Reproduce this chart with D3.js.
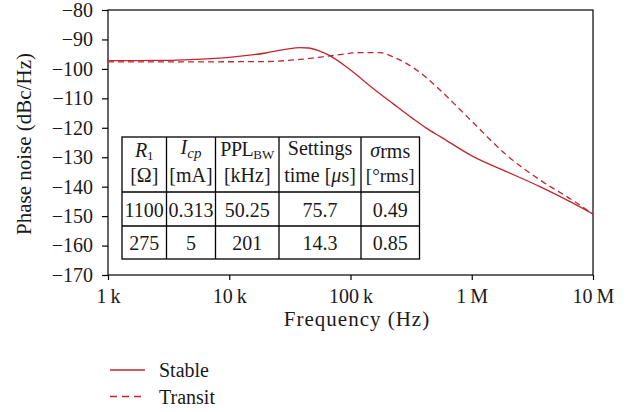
<!DOCTYPE html>
<html><head><meta charset="utf-8">
<script src="https://cdn.jsdelivr.net/npm/d3@7"></script>
<style>
html,body{margin:0;padding:0;background:#fff;}
svg{display:block;font-family:"Liberation Serif","DejaVu Serif",serif;}
</style></head>
<body>
<svg id="c" width="629" height="412"></svg>
<script>
// ---- data ----
const xTickValues = [1e3, 1e4, 1e5, 1e6, 1e7];
const xTickLabels = ["1\u2009k", "10\u2009k", "100\u2009k", "1\u2009M", "10\u2009M"];
const yTickValues = [-170, -160, -150, -140, -130, -120, -110, -100, -90, -80];
const yTickLabels = ["\u2212170", "\u2212160", "\u2212150", "\u2212140", "\u2212130", "\u2212120", "\u2212110", "\u2212100", "\u221290", "\u221280"];

const stableFreq = [1e3, 3e3, 5e3, 1e4, 2e4, 3e4, 3.8e4, 4.5e4, 5.5e4, 6.8e4, 1e5, 1.5e5, 2.24e5, 3.27e5, 4.25e5, 5.5e5, 1.03e6, 1.94e6, 3.65e6, 6.9e6, 1e7];
const stablePN   = [-97.2, -97.1, -96.8, -96.1, -94.6, -93.3, -92.8, -92.9, -93.9, -95.6, -100.4, -106.3, -111.8, -116.9, -120.2, -123.0, -129.8, -134.9, -140.0, -145.7, -149.3];

const transitFreq = [1e3, 5e3, 2e4, 3.8e4, 6.8e4, 1.2e5, 1.75e5, 2.24e5, 3.51e5, 5.14e5, 8e5, 1.03e6, 1.94e6, 3.65e6, 6.9e6, 1e7];
const transitPN   = [-97.6, -97.6, -97.5, -96.8, -95.6, -94.5, -94.5, -95.9, -100.4, -106.1, -113.8, -118.3, -129.3, -137.7, -144.8, -149.3];

const seriesNames = ["Stable", "Transit"];

const tableHeader1 = ["R1", "Icp", "PPLBW", "Settings", "σrms"];
const tableHeader2 = ["[Ω]", "[mA]", "[kHz]", "time [μs]", "[°rms]"];
const tableRows = [
  ["1100", "0.313", "50.25", "75.7", "0.49"],
  ["275", "5", "201", "14.3", "0.85"]
];

// ---- drawing ----
const svg = d3.select("#c");
const red = "#c1272d";
const ink = "#1a1a1a";
const fs = 20;

const x = d3.scaleLog().domain([1e3, 1e7]).range([108, 593]);
const y = d3.scaleLinear().domain([-170, -80]).range([275, 10]);

// frame
svg.append("rect").attr("x", x.range()[0]).attr("y", y.range()[1])
  .attr("width", x.range()[1] - x.range()[0]).attr("height", y.range()[0] - y.range()[1])
  .attr("fill", "none").attr("stroke", "#000").attr("stroke-width", 1.2);

const xAxis = d3.axisBottom(x).tickValues(xTickValues)
  .tickFormat((d, i) => xTickLabels[i]).tickSize(5).tickSizeOuter(0);
const gx = svg.append("g").attr("transform", `translate(0,${y.range()[0]})`).call(xAxis);
gx.select(".domain").remove();
gx.selectAll("line").attr("stroke", "#000").attr("stroke-width", 1.2);
gx.selectAll("text").attr("font-size", fs).attr("fill", ink).attr("font-family", "Liberation Serif")
  .attr("y", 28).attr("dy", null);

const yAxis = d3.axisLeft(y).tickValues(yTickValues)
  .tickFormat((d, i) => yTickLabels[i]).tickSize(6).tickSizeOuter(0);
const gy = svg.append("g").attr("transform", `translate(${x.range()[0]},0)`).call(yAxis);
gy.select(".domain").remove();
gy.selectAll("line").attr("stroke", "#000").attr("stroke-width", 1.2);
gy.selectAll("text").attr("font-size", fs).attr("fill", ink).attr("font-family", "Liberation Serif").attr("x", -15);

// axis titles
svg.append("text").attr("x", 357).attr("y", 326)
  .attr("text-anchor", "middle").attr("font-size", 21).attr("letter-spacing", 1).attr("fill", ink).text("Frequency (Hz)");
svg.append("text").attr("transform", `translate(31,144) rotate(-90)`)
  .attr("text-anchor", "middle").attr("font-size", 21).attr("fill", ink).text("Phase noise (dBc/Hz)");

// curves
const line = d3.line().x(d => x(d[0])).y(d => y(d[1])).curve(d3.curveMonotoneX);
svg.append("clipPath").attr("id", "pc").append("rect")
  .attr("x", x.range()[0]).attr("y", y.range()[1])
  .attr("width", x.range()[1] - x.range()[0]).attr("height", y.range()[0] - y.range()[1]);
svg.append("path").datum(stableFreq.map((f, i) => [f, stablePN[i]]))
  .attr("d", line).attr("fill", "none").attr("stroke", red).attr("stroke-width", 1.3).attr("clip-path", "url(#pc)");
svg.append("path").datum(transitFreq.map((f, i) => [f, transitPN[i]]))
  .attr("d", line).attr("fill", "none").attr("stroke", red).attr("stroke-width", 1.3)
  .attr("stroke-dasharray", "6,4").attr("clip-path", "url(#pc)");

// table
const colX = [122, 166.5, 215.5, 279, 361, 419.5];
const rowY = [137, 192, 226, 259];
const tg = svg.append("g");
tg.append("rect").attr("x", colX[0]).attr("y", rowY[0]).attr("width", colX[5] - colX[0]).attr("height", rowY[3] - rowY[0])
  .attr("fill", "#fff").attr("stroke", "#000").attr("stroke-width", 1.3);
colX.slice(1, 5).forEach(cx => tg.append("line").attr("x1", cx).attr("x2", cx).attr("y1", rowY[0]).attr("y2", rowY[3]).attr("stroke", "#000").attr("stroke-width", 1.3));
rowY.slice(1, 3).forEach(ry => tg.append("line").attr("x1", colX[0]).attr("x2", colX[5]).attr("y1", ry).attr("y2", ry).attr("stroke", "#000").attr("stroke-width", 1.3));

function cellText(ci, yy) {
  return tg.append("text").attr("x", (colX[ci] + colX[ci + 1]) / 2).attr("y", yy)
    .attr("text-anchor", "middle").attr("font-size", fs).attr("fill", ink);
}
// header line 1 with rich formatting
let t;
t = cellText(0, 157); t.append("tspan").attr("font-style", "italic").text(tableHeader1[0][0]);
t.append("tspan").attr("font-size", 13).attr("dy", 3).text(tableHeader1[0].slice(1));
t = cellText(1, 154); t.append("tspan").attr("font-style", "italic").text(tableHeader1[1][0]);
t.append("tspan").attr("font-style", "italic").attr("font-size", 15).attr("dy", 4).text(tableHeader1[1].slice(1));
t = cellText(2, 156); t.append("tspan").attr("letter-spacing", -0.5).text(tableHeader1[2].slice(0, 3));
t.append("tspan").attr("font-size", 13).attr("dy", 3).text(tableHeader1[2].slice(3));
t = cellText(3, 155); t.text(tableHeader1[3]);
t = cellText(4, 157); t.append("tspan").attr("font-style", "italic").text(tableHeader1[4][0]);
t.append("tspan").attr("dy", 1).text(tableHeader1[4].slice(1));
// header line 2
tableHeader2.forEach((s, ci) => {
  const tt = cellText(ci, 182);
  if (ci === 4) tt.attr("font-size", 19);
  if (s.includes("μ")) {
    const k = s.indexOf("μ");
    tt.append("tspan").text(s.slice(0, k));
    tt.append("tspan").attr("font-style", "italic").text("μ");
    tt.append("tspan").text(s.slice(k + 1));
  } else tt.text(s);
});
// data rows
const rowBase = [216.5, 250];
tableRows.forEach((row, ri) => {
  row.forEach((s, ci) => cellText(ci, rowBase[ri]).text(s));
});

// legend
const legY = [370, 396.5];
seriesNames.forEach((nm, i) => {
  svg.append("line").attr("x1", 110).attr("x2", 145).attr("y1", legY[i]).attr("y2", legY[i])
    .attr("stroke", red).attr("stroke-width", 1.3).attr("stroke-dasharray", i === 1 ? "7,5" : null);
  svg.append("text").attr("x", 159).attr("y", legY[i] + 7)
    .attr("font-size", fs).attr("fill", ink).text(nm);
});
</script>
</body></html>
